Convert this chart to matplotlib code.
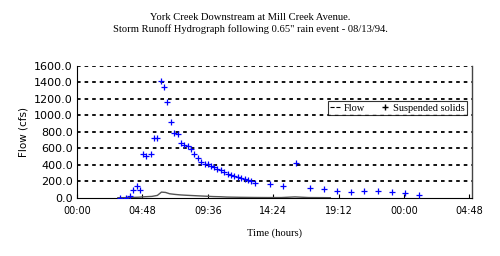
import matplotlib.pyplot as plt
from matplotlib.lines import Line2D

# Suspended solids samples (hours since 00:00, value)
ss_hours = [3.15, 3.59, 3.88, 4.13, 4.37, 4.64, 4.86, 5.10, 5.40, 5.64, 5.88,
            6.15, 6.37, 6.62, 6.89, 7.13, 7.38, 7.62, 7.86, 8.13, 8.38, 8.62,
            8.86, 9.13, 9.37, 9.60, 9.85, 10.09, 10.30, 10.55, 10.80, 11.05,
            11.30, 11.55, 11.80, 12.05, 12.30, 12.55, 12.80, 13.10,
            14.14, 15.10, 16.10, 17.10, 18.10, 19.10, 20.10, 21.10, 22.10,
            23.10, 24.10, 25.10]
ss_values = [4, 4, 20, 100, 150, 100, 536, 508, 536, 726, 726,
             1420, 1347, 1162, 916, 790, 774, 662, 640, 630, 597, 536,
             488, 440, 415, 415, 390, 370, 350, 343, 310, 295,
             280, 265, 253, 240, 230, 218, 200, 180,
             165, 150, 420, 117, 105, 85, 75, 85, 85,
             75, 60, 40]

# Flow (cfs)
flow_hours = [3.0, 3.5, 4.0, 4.5, 5.0, 5.5, 5.9, 6.2, 6.5, 6.8, 7.2, 7.6, 8.0,
              8.5, 9.0, 9.5, 10.0, 10.5, 11.0, 12.0, 13.0, 14.0, 15.0, 15.5,
              16.0, 16.5, 17.0, 18.0, 18.6]
flow_values = [2, 3, 5, 8, 14, 18, 30, 70, 66, 50, 42, 36, 32,
               28, 24, 20, 16, 14, 10, 7, 5, 4, 4, 8,
               12, 8, 4, 3, 2]

xticks = [0, 4.8, 9.6, 14.4, 19.2, 24.0, 28.8]
xtick_labels = ['00:00', '04:48', '09:36', '14:24', '19:12', '00:00', '04:48']
yticks = [0, 200, 400, 600, 800, 1000, 1200, 1400, 1600]

serif = 'Liberation Serif'

fig = plt.figure(figsize=(5, 2.56), dpi=100)
ax = fig.add_axes([0.154, 0.227, 0.790, 0.516])

for y in yticks[1:]:
    ax.axhline(y, color='black', lw=1.3, ls=(0, (2, 2.2)), zorder=1)

ax.plot(flow_hours, flow_values, color='#555555', lw=1, zorder=2)
ax.plot(ss_hours, ss_values, ls='none', marker='+', color='#0000ff',
        markersize=4.8, markeredgewidth=0.9, zorder=3)

ax.set_xlim(0, 29.0)
ax.set_ylim(0, 1600)
ax.set_xticks(xticks)
ax.set_xticklabels(xtick_labels)
ax.set_yticks(yticks)
ax.set_yticklabels([f'{v:.1f}' for v in yticks])
ax.tick_params(axis='x', direction='in', length=3, labelsize=7, pad=6)
ax.tick_params(axis='y', length=0, labelsize=8, pad=3)
ax.spines['top'].set_visible(False)
ax.spines['right'].set_color('#444444')
ax.spines['right'].set_linewidth(1)

ax.set_ylabel('Flow (cfs)', fontsize=7.5, labelpad=4)
ax.set_xlabel('Time (hours)', family=serif, fontsize=7.6, labelpad=9)

fig.text(0.5, 0.91, 'York Creek Downstream at Mill Creek Avenue.\n'
         'Storm Runoff Hydrograph following 0.65" rain event - 08/13/94.',
         ha='center', va='center', family=serif, fontsize=7.6, linespacing=1.3)

handles = [Line2D([], [], color='black', ls='--', lw=0.8),
           Line2D([], [], color='black', marker='+', ls='none', markersize=5)]
leg = ax.legend(handles, ['Flow', 'Suspended solids'], ncol=2,
                loc='lower left', bbox_to_anchor=(0.635, 0.63, 0.352, 0.1),
                mode='expand', prop={'family': serif, 'size': 7.5},
                frameon=True, fancybox=False, handlelength=1.0,
                handletextpad=0.3, columnspacing=0.8, borderpad=0.2,
                borderaxespad=0)
leg.get_frame().set_edgecolor('black')
leg.get_frame().set_linewidth(0.8)

fig.savefig('out.png', dpi=100)
